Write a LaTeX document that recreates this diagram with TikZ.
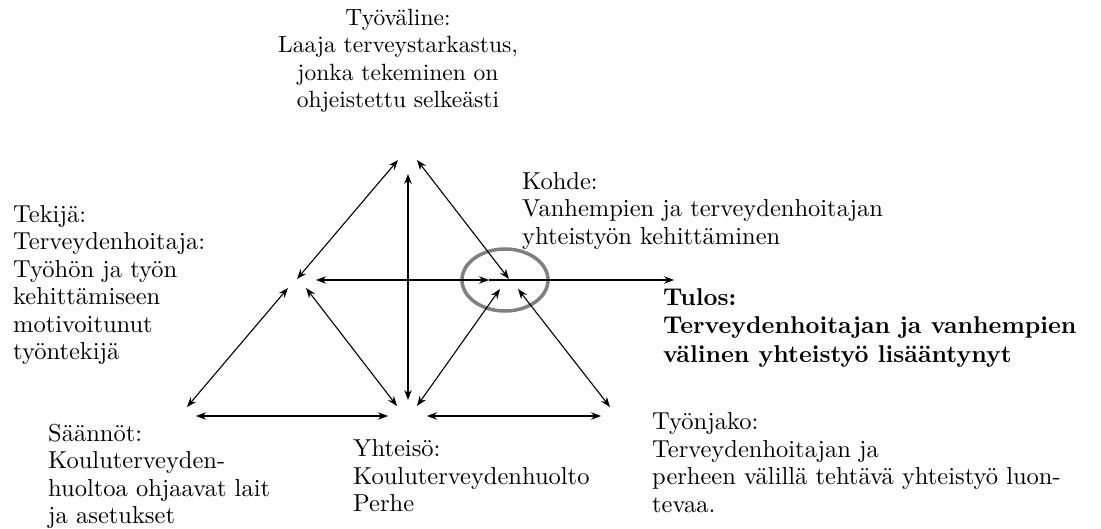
\documentclass[tikz,border=0pt]{standalone}
\usepackage{fontspec}
\setmainfont{lmroman10-regular.otf}[BoldFont=lmroman10-bold.otf]
\usetikzlibrary{arrows.meta,shapes.geometric}
\begin{document}
\begin{tikzpicture}[x=1pt,y=-1pt,
  conn/.style={line width=1.1pt,{Stealth[length=10pt,width=7.5pt]}-{Stealth[length=10pt,width=7.5pt]}},
  oneway/.style={line width=1.1pt,-{Stealth[length=10pt,width=7.5pt]}},
  lbl/.style={inner sep=0pt,anchor=north west,align=left,font=\fontsize{24.5}{27.5}\selectfont},
  lblc/.style={inner sep=0pt,anchor=north,align=center,font=\fontsize{23.5}{27.5}\selectfont},
  lblb/.style={inner sep=0pt,anchor=north west,align=left,font=\fontsize{24.3}{28.5}\selectfont\bfseries},
  ring/.style={draw=black!50,line width=3.5pt}]
\useasboundingbox (0,0) rectangle (1101,529);
% endpoints
\coordinate (tl1) at (398,160); \coordinate (tl2) at (297,279);
\coordinate (tr1) at (417,160); \coordinate (tr2) at (509,279);
\coordinate (v1) at (408,174);  \coordinate (v2) at (408,400);
\coordinate (h1) at (316,280);  \coordinate (hm) at (489,280); \coordinate (h2) at (674,280);
\coordinate (lb1) at (288,288); \coordinate (lb2) at (187,407);
\coordinate (lm1) at (306,288); \coordinate (lm2) at (397,406);
\coordinate (mr1) at (417,406); \coordinate (mr2) at (500,289);
\coordinate (rb1) at (518,289); \coordinate (rb2) at (610,407);
\coordinate (b1) at (196,416);  \coordinate (b2) at (388,416);
\coordinate (b3) at (427,416);  \coordinate (b4) at (601,416);
% ring
\node[ring,ellipse,minimum width=86pt,minimum height=62pt,inner sep=0pt] (ring) at (505,280) {};
% connectors
\draw[conn] (tl1) -- (tl2);
\draw[conn] (tr1) -- (tr2);
\draw[conn] (v1) -- (v2);
\draw[conn] (h1) -- (hm);
\draw[oneway] (hm) -- (h2);
\draw[conn] (lb1) -- (lb2);
\draw[conn] (lm1) -- (lm2);
\draw[conn] (mr1) -- (mr2);
\draw[conn] (rb1) -- (rb2);
\draw[conn] (b1) -- (b2);
\draw[conn] (b3) -- (b4);
% labels
\node[lblc] (tool) at (398,8.5) {Työväline:\\Laaja terveystarkastus,\\jonka tekeminen on\\ohjeistettu selkeästi};
\node[lbl] (subj) at (13,205) {Tekijä:\\Terveydenhoitaja:\\Työhön ja työn\\kehittämiseen\\motivoitunut\\työntekijä};
\node[lbl] (obj) at (522,172) {Kohde:\\Vanhempien ja terveydenhoitajan\\yhteistyön kehittäminen};
\node[lblb] (out) at (663,288) {Tulos:\\Terveydenhoitajan ja vanhempien\\välinen yhteistyö lisääntynyt};
\node[lbl] (rules) at (48,424) {Säännöt:\\Kouluterveyden-\\huoltoa ohjaavat lait\\ja asetukset};
\node[lbl] (comm) at (353,439.5) {Yhteisö:\\Kouluterveydenhuolto\\Perhe};
\node[lbl] (div) at (652,412.5) {Työnjako:\\Terveydenhoitajan ja\\perheen välillä tehtävä yhteistyö luon-\\tevaa.};
\end{tikzpicture}
\end{document}
